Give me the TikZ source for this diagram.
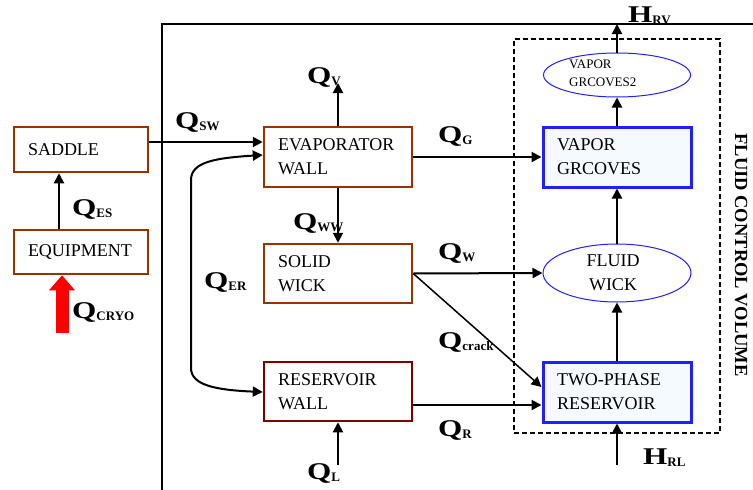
\documentclass[tikz,border=0pt]{standalone}
\usepackage{fontspec}
\setmainfont{Liberation Serif}
\newfontfamily\lblfont[FakeStretch=1.3]{Liberation Serif}
\usetikzlibrary{arrows.meta,shapes.geometric}
\definecolor{brn}{HTML}{993300}
\definecolor{mrn}{HTML}{800000}
\definecolor{blu}{HTML}{2020FF}
\definecolor{lfill}{HTML}{F5FAFF}
\newcommand\qlab[2]{{\lblfont\bfseries\fontsize{24}{24}\selectfont #1}\raisebox{-2pt}{\bfseries\fontsize{13}{13}\selectfont #2}}
\begin{document}
\begin{tikzpicture}[x=1pt,y=-1pt,
  box/.style={draw=brn, line width=2.5pt, rectangle, minimum width=148pt, minimum height=60pt,
    text width=120pt, align=left, inner xsep=14pt, inner ysep=0pt, font=\fontsize{18}{24}\selectfont},
  bbox/.style={box, draw=blu, line width=3pt, fill=lfill},
  ell/.style={draw=blu, line width=1pt, ellipse, inner sep=0pt},
  arr/.style={line width=2pt, -{Triangle[length=10pt,width=10pt]}},
  lbl/.style={inner sep=0pt, anchor=west}]
\useasboundingbox (0,0) rectangle (753,490);
% enclosing lines and control volume
\draw[line width=2pt] (162,490) -- (162,24) -- (753,24);
\node[draw, dash pattern=on 5pt off 3pt, line width=1.5pt, minimum width=206pt, minimum height=394pt, inner sep=0pt] (fcv) at (617,236) {};
\node[font=\bfseries\fontsize{18.5}{18.5}\selectfont, rotate=-90] (fcvl) at (741,255) {FLUID CONTROL VOLUME};
% boxes
\node[box, minimum width=134pt, minimum height=45pt, text width=106pt] (saddle) at (81,149.5) {SADDLE};
\node[box, minimum width=134pt, minimum height=44pt, text width=106pt] (equip) at (81,252) {EQUIPMENT};
\node[box] (evap) at (338,157) {EVAPORATOR\\WALL};
\node[box, minimum height=59pt] (solid) at (338,273.5) {SOLID\\WICK};
\node[box, draw=mrn, minimum height=59pt] (rwall) at (338,391.5) {RESERVOIR\\WALL};
\node[bbox] (vg) at (617,157) {VAPOR\\GRCOVES};
\node[bbox] (tpr) at (617,392) {TWO-PHASE\\RESERVOIR};
\node[ell, minimum width=147pt, minimum height=44pt] (vg2) at (617,75) {};
\node[font=\fontsize{13}{18}\selectfont, align=left, anchor=west, inner sep=0pt] (vg2t) at (569,73.5) {VAPOR\\GRCOVES2};
\node[ell, minimum width=148pt, minimum height=58pt] (fw) at (617,273) {};
\node[font=\fontsize{18}{24}\selectfont, align=center, inner sep=0pt] (fwt) at (613,273) {FLUID\\WICK};
% coordinates
\coordinate (swy) at (0,142);
\coordinate (esx) at (59,0);
\coordinate (cryo) at (62,333);
\coordinate (qv) at (338,83);
\coordinate (ql) at (338,465);
\coordinate (crk) at (543,387);
\coordinate (qr) at (0,405);
\coordinate (er1) at (0,155);
\coordinate (er2) at (0,392);
\coordinate (hrv) at (617,24);
\coordinate (hrl) at (617,465);
% connectors
\draw[arr] (saddle.east |- swy) -- (evap.west |- swy);
\draw[arr] (esx |- equip.north) -- (esx |- saddle.south);
\draw[red, line width=13pt, -{Triangle[length=15pt,width=25pt]}] (cryo) -- (cryo |- equip.south);
\draw[arr] (evap.north) -- (qv);
\draw[arr] (evap.south) -- (solid.north);
\draw[arr] (ql) -- (rwall.south);
\draw[arr] (evap.east) -- (vg.west);
\draw[arr] (solid.east) -- (fw.west);
\draw[arr, line width=1.5pt] (solid.east) -- (tpr.west |- crk);
\draw[arr] (rwall.east |- qr) -- (tpr.west |- qr);
\draw[line width=2pt, {Triangle[length=10pt,width=10pt]}-{Triangle[length=10pt,width=10pt]}]
  (evap.west |- er1) .. controls (215,158) and (191,162) .. (191,180) -- (191,368)
  .. controls (191,385) and (215,390) .. (rwall.west |- er2);
\draw[arr] (vg2.north) -- (hrv);
\draw[arr] (vg.north) -- (vg2.south);
\draw[arr] (fw.north) -- (vg.south);
\draw[arr] (tpr.north) -- (fw.south);
\draw[arr] (hrl) -- (tpr.south);
% labels
\node[lbl] (lsw) at (175,122) {\qlab{Q}{SW}};
\node[lbl] (lv) at (307,77) {\qlab{Q}{V}};
\node[lbl] (les) at (72,209) {\qlab{Q}{ES}};
\node[lbl] (lcryo) at (72,312) {\qlab{Q}{CRYO}};
\node[lbl] (lg) at (438,136) {\qlab{Q}{G}};
\node[lbl] (lww) at (293,223) {\qlab{Q}{WW}};
\node[lbl] (ler) at (204,282) {\qlab{Q}{ER}};
\node[lbl] (lw) at (438,253) {\qlab{Q}{W}};
\node[lbl] (lcrack) at (438,342) {\qlab{Q}{crack}};
\node[lbl] (lr) at (438,430) {\qlab{Q}{R}};
\node[lbl] (ll) at (307,473) {\qlab{Q}{L}};
\node[lbl] (lhrl) at (643,458) {\qlab{H}{RL}};
\node[lbl] (lhrv) at (628,16) {\qlab{H}{RV}};
\end{tikzpicture}
\end{document}
